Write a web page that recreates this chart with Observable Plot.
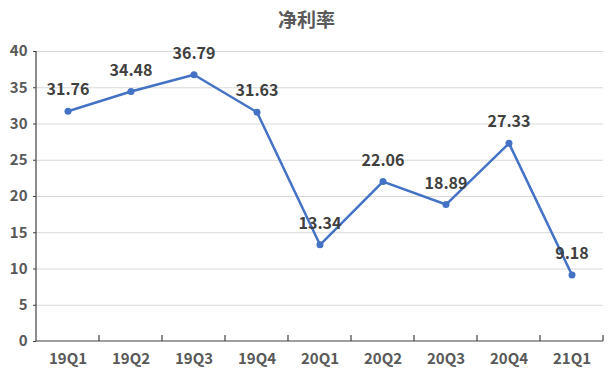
<!DOCTYPE html>
<html><head><meta charset="utf-8">
<script src="https://cdn.jsdelivr.net/npm/d3@7"></script>
<script src="https://cdn.jsdelivr.net/npm/@observablehq/plot@0.6"></script>
<style>
body{margin:0;background:#fff;font-family:"Noto Sans CJK SC",sans-serif;}
#title{height:40px;width:613px;text-align:center;font-size:19px;font-weight:bold;color:#595959;line-height:38px;}
</style></head>
<body>
<div id="title">净利率</div>
<div id="chart"></div>
<script>
const quarters = ["19Q1","19Q2","19Q3","19Q4","20Q1","20Q2","20Q3","20Q4","21Q1"];
const netMargin = [31.76,34.48,36.79,31.63,13.34,22.06,18.89,27.33,9.18];
const yTicks = [0,5,10,15,20,25,30,35,40];

const data = quarters.map((q,i)=>({q, v: netMargin[i]}));
const font = "Noto Sans CJK SC";
const plot = Plot.plot({
  width: 613, height: 339,
  marginTop: 11, marginBottom: 38, marginLeft: 36, marginRight: 10,
  style: {fontFamily: font, background: "#fff"},
  x: {type: "band", domain: quarters, padding: 0, round: false, axis: null},
  y: {domain: [0, 40], axis: null},
  marks: [
    Plot.ruleY(yTicks.filter(d=>d>0), {stroke: "#d9d9d9", strokeWidth: 1}),
    Plot.axisY({ticks: yTicks, tickSize: 3, tickPadding: 6, stroke:"#404040", fill: "#595959", fontSize: 15, fontWeight: "bold", label: null}),
    Plot.axisX({tickSize: 0, tickPadding: 12, fill: "#595959", fontSize: 15, fontWeight: "bold", label: null}),
    Plot.line(data, {x: "q", y: "v", stroke: "#4472C4", strokeWidth: 2.5}),
    Plot.dot(data, {x: "q", y: "v", fill: "#4472C4", r: 3.5}),
    Plot.text(data, {x: "q", y: "v", text: d=>d.v.toFixed(2), dy: -21, fill: "#404040", fontSize: 16, fontWeight: "bold"})
  ]
});
document.getElementById("chart").appendChild(plot);
const xs = plot.scale("x"), ys = plot.scale("y");
const svg = d3.select(plot);
const y0 = ys.apply(0), y40 = ys.apply(40);
const x0 = xs.apply(quarters[0]);
const bw = xs.bandwidth;
const xEnd = xs.apply(quarters[quarters.length-1]) + bw;
const g = svg.append("g").attr("stroke", "#404040").attr("stroke-width", 1.2);
g.append("line").attr("x1", x0).attr("x2", x0).attr("y1", y0).attr("y2", y40);
g.append("line").attr("x1", x0).attr("x2", xEnd).attr("y1", y0).attr("y2", y0);
quarters.forEach(q=>{
  const x = xs.apply(q) + bw;
  g.append("line").attr("x1", x).attr("x2", x).attr("y1", y0).attr("y2", y0-6);
});
</script>
</body></html>
